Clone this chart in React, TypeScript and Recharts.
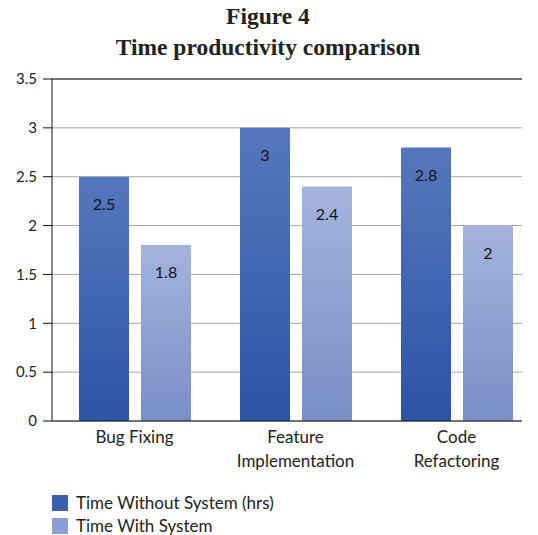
import React from "react";
import {
    BarChart,
    Bar,
    XAxis,
    YAxis,
    CartesianGrid,
    LabelList,
    ReferenceLine,
} from "recharts";

const categories = ["Bug Fixing", "Feature Implementation", "Code Refactoring"];
const withoutSystem = [2.5, 3, 2.8];
const withSystem = [1.8, 2.4, 2];
const yTicks = [0, 0.5, 1, 1.5, 2, 2.5, 3, 3.5];
const seriesNames = ["Time Without System (hrs)", "Time With System"];

const data = categories.map((c, i) => ({
    name: c,
    without: withoutSystem[i],
    with: withSystem[i],
}));

const FONT = "Lato, 'Open Sans', sans-serif";

function CategoryTick({ x, y, payload }: any) {
    const v: string = payload.value;
    const lines = v.length > 12 ? v.split(" ") : [v];
    return (
        <text x={x} y={y} textAnchor="middle" fill="#222" fontSize={17} fontFamily={FONT}>
            {lines.map((l, i) => (
                <tspan key={i} x={x} dy={i === 0 ? 14 : 24}>{l}</tspan>
            ))}
        </text>
    );
}

function LegendBox() {
    const flat = ["#3a61ad", "#8c9fd2"];
    return (
        <div style={{ position: "absolute", left: 52, top: 491, fontFamily: FONT, fontSize: 17, color: "#222" }}>
            {seriesNames.map((n, i) => (
                <div key={n} style={{ display: "flex", alignItems: "center", height: 23 }}>
                    <span style={{ display: "inline-block", width: 16, height: 16, background: flat[i], marginRight: 8 }} />
                    <span>{n}</span>
                </div>
            ))}
        </div>
    );
}

export default function App() {
    return (
        <div style={{ position: "absolute", left: 0, top: 0, width: 538, height: 535, background: "#fff" }}>
            <div
                style={{
                    position: "absolute",
                    left: 0,
                    top: 1,
                    width: 536,
                    textAlign: "center",
                    fontFamily: "'Liberation Serif', serif",
                    fontWeight: "bold",
                    fontSize: 23.5,
                    lineHeight: "31px",
                    color: "#222",
                }}
            >
                <div>Figure 4</div>
                <div>Time productivity comparison</div>
            </div>
            <div style={{ position: "absolute", left: 0, top: 0 }}>
                <BarChart
                    width={538}
                    height={535}
                    data={data}
                    margin={{ top: 79, right: 16, bottom: 64, left: 0 }}
                    barSize={50}
                    barGap={12}
                >
                    <defs>
                        <linearGradient id="gDark" x1="0" y1="0" x2="0" y2="1">
                            <stop offset="0%" stopColor="#5677bd" />
                            <stop offset="100%" stopColor="#2b54a5" />
                        </linearGradient>
                        <linearGradient id="gLight" x1="0" y1="0" x2="0" y2="1">
                            <stop offset="0%" stopColor="#a4b4dd" />
                            <stop offset="100%" stopColor="#7a8ec8" />
                        </linearGradient>
                    </defs>
                    <CartesianGrid vertical={false} stroke="#a6a6a6" />
                    <XAxis
                        dataKey="name"
                        axisLine={{ stroke: "#111" }}
                        tickLine={false}
                        tick={<CategoryTick />}
                        padding={{ left: 2, right: -15 }}
                        height={50}
                        interval={0}
                    />
                    <YAxis
                        domain={[0, 3.5]}
                        ticks={yTicks}
                        width={52}
                        axisLine={{ stroke: "#111" }}
                        tickLine={{ stroke: "#111" }}
                        tickSize={9}
                        tickMargin={6}
                        tick={{ fill: "#222", fontSize: 15, fontFamily: FONT }}
                    />
                    <YAxis
                        yAxisId="r"
                        orientation="right"
                        width={0}
                        tick={false}
                        tickLine={false}
                        axisLine={{ stroke: "#111" }}
                    />
                    <ReferenceLine y={3.5} stroke="#111" />
                    <Bar dataKey="without" name={seriesNames[0]} fill="url(#gDark)" isAnimationActive={false}>
                        <LabelList dataKey="without" position="insideTop" offset={22} fill="#111" fontSize={16} fontFamily={FONT} />
                    </Bar>
                    <Bar dataKey="with" name={seriesNames[1]} fill="url(#gLight)" isAnimationActive={false}>
                        <LabelList dataKey="with" position="insideTop" offset={22} fill="#111" fontSize={16} fontFamily={FONT} />
                    </Bar>
                </BarChart>
            </div>
            <LegendBox />
        </div>
    );
}
